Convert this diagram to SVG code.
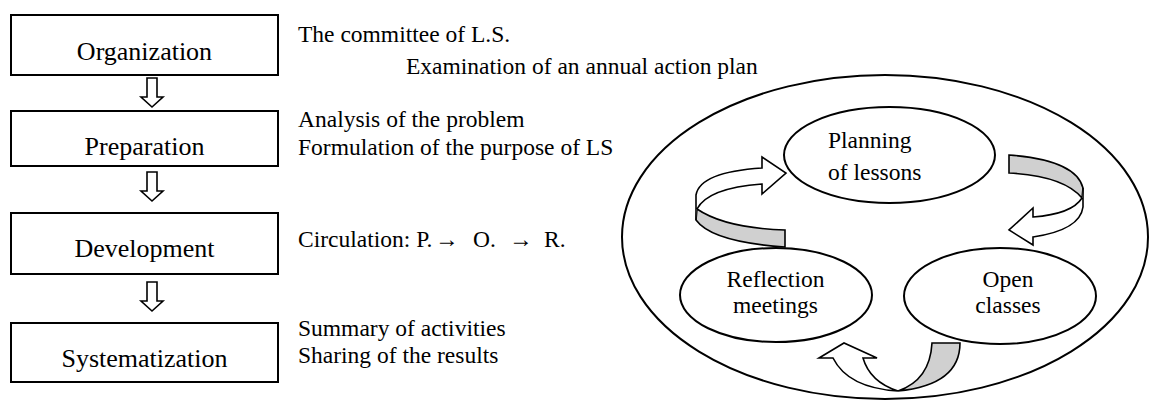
<svg xmlns="http://www.w3.org/2000/svg" width="1151" height="401" viewBox="0 0 1151 401">
<style>
.box{fill:#fff;stroke:#000;stroke-width:2}
.bt{font-family:"Liberation Serif","Times New Roman",serif;font-size:26px;fill:#000;text-anchor:middle}
.st{font-family:"Liberation Serif","Times New Roman",serif;font-size:23.5px;fill:#000}
.el{fill:none;stroke:#000;stroke-width:2}
.arw{fill:#fff;stroke:#000;stroke-width:1.6;stroke-linejoin:miter}
.gry{fill:#d0d0d0;stroke:#000;stroke-width:1.6}
</style>
<rect width="1151" height="401" fill="#fff"/>
<g id="organization"><rect class="box" x="11" y="15" width="267" height="60"/><text class="bt" x="144.5" y="60">Organization</text></g>
<g id="preparation"><rect class="box" x="11" y="111" width="267" height="55"/><text class="bt" x="144.5" y="155">Preparation</text></g>
<g id="development"><rect class="box" x="11" y="213" width="267" height="61"/><text class="bt" x="144.5" y="257">Development</text></g>
<g id="systematization"><rect class="box" x="11" y="323" width="267" height="59"/><text class="bt" x="144.5" y="367">Systematization</text></g>
<g id="notes">
<text class="st" x="298" y="42">The committee of L.S.</text>
<text class="st" x="406" y="74">Examination of an annual action plan</text>
<text class="st" x="298" y="127">Analysis of the problem</text>
<text class="st" x="298" y="155">Formulation of the purpose of LS</text>
<text class="st" y="247"><tspan x="298">Circulation: P.</tspan><tspan x="435">→</tspan><tspan x="473">O.</tspan><tspan x="509">→</tspan><tspan x="544">R.</tspan></text>
<text class="st" x="298" y="336">Summary of activities</text>
<text class="st" x="298" y="363">Sharing of the results</text>
</g>
<g id="cycle-frame"><ellipse class="el" cx="885" cy="237" rx="263" ry="162"/></g>
<g id="planning"><ellipse class="el" cx="889.5" cy="155" rx="105.5" ry="48"/><text class="st" x="828" y="148">Planning</text><text class="st" x="828" y="180">of lessons</text></g>
<g id="reflection"><ellipse class="el" cx="776" cy="295" rx="96" ry="47"/><text class="st" x="775.5" y="287" text-anchor="middle">Reflection</text><text class="st" x="775.5" y="313" text-anchor="middle">meetings</text></g>
<g id="open"><ellipse class="el" cx="1000" cy="296" rx="96" ry="48"/><text class="st" x="1008" y="287" text-anchor="middle">Open</text><text class="st" x="1008" y="313" text-anchor="middle">classes</text></g>
<g id="connectors">
<path class="arw" d="M147,78 H157 V97 H163 L152,107 L141,97 H147 Z"/>
<path class="arw" d="M147,172 H157 V191 H163 L152,201 L141,191 H147 Z"/>
<path class="arw" d="M147,282 H157 V301 H163 L152,311 L141,301 H147 Z"/>
<path class="gry" d="M697,209 Q725,228 785,230 L785,247 Q712,242 696,220 Z"/>
<path class="arw" d="M696,220 L696,195 Q700,172 762,168 L762,157 L786,173 L762,194 L762,184 Q708,188 697,209"/>
<path class="gry" d="M1009,155 Q1076,160 1083,188 L1082,198 Q1064,176 1009,173 Z"/>
<path class="arw" d="M1082,198 Q1072,214 1033,217 L1033,208 L1009,230 L1033,245 L1033,237 Q1080,230 1083,207 L1083,188"/>
<path class="gry" d="M932,343 H960 Q960,385 898,391 Q930,380 932,343 Z"/>
<path class="arw" d="M898,391 Q848,388 833,358 L819,358 L844,343 L877,358 L863,358 Q870,382 898,391"/>
</g>
</svg>
